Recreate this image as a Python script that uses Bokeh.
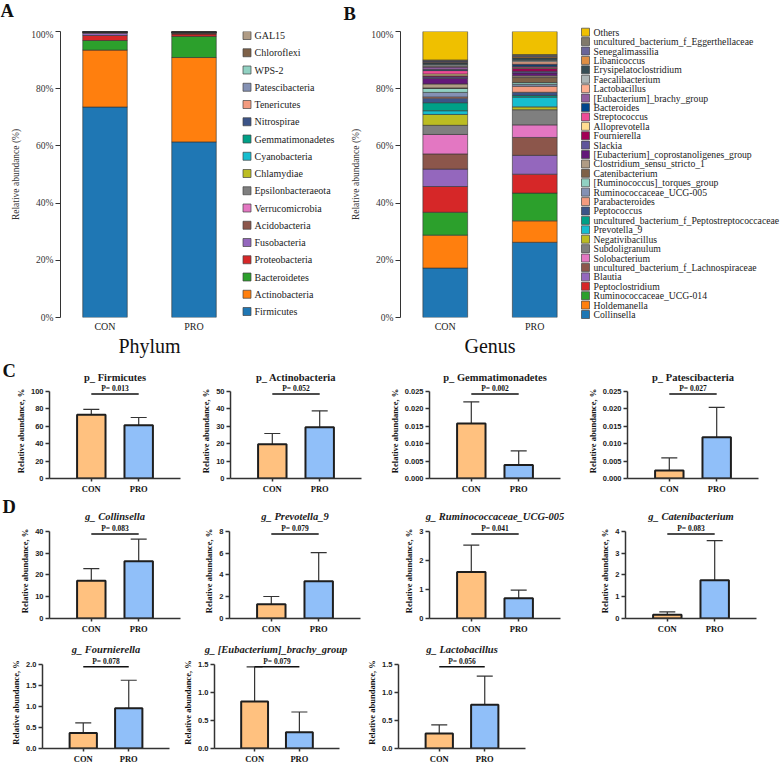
from bokeh.plotting import figure
from bokeh.models import (FactorRange, Range1d, FixedTicker, PrintfTickFormatter, NumeralTickFormatter,
                          Whisker, TeeHead, ColumnDataSource)
from bokeh.layouts import row, column
from bokeh.core.properties import value
from bokeh.embed import file_html
from bokeh.resources import INLINE

SERIF = "Liberation Serif"
SANS = "Liberation Sans"

# ---------------- data ----------------
groups = ["CON", "PRO"]

phyla = ["Firmicutes", "Actinobacteria", "Bacteroidetes", "Proteobacteria", "Fusobacteria",
         "Acidobacteria", "Verrucomicrobia", "Epsilonbacteraeota", "Chlamydiae", "Cyanobacteria",
         "Gemmatimonadetes", "Nitrospirae", "Tenericutes", "Patescibacteria", "WPS-2",
         "Chloroflexi", "GAL15"]
phylum_con = [73.6, 19.9, 3.35, 1.75, 0.8, 0.25, 0.1, 0.05, 0.05, 0.04,
              0.016, 0.03, 0.02, 0.002, 0.015, 0.015, 0.012]
phylum_pro = [61.4, 29.5, 7.4, 0.8, 0.2, 0.3, 0.05, 0.05, 0.05, 0.05,
              0.004, 0.05, 0.03, 0.012, 0.02, 0.06, 0.02]
phylum_colors = ["#1f77b4", "#ff7f0e", "#2ca02c", "#d62728", "#9467bd", "#8c564b", "#e377c2",
                 "#7f7f7f", "#bcbd22", "#17becf", "#00A087", "#3C5488", "#F39B7F", "#8491B4",
                 "#91D1C2", "#7E6148", "#B09C85"]

genera = ["Collinsella", "Holdemanella", "Ruminococcaceae_UCG-014", "Peptoclostridium", "Blautia",
          "uncultured_bacterium_f_Lachnospiraceae", "Solobacterium", "Subdoligranulum",
          "Negativibacillus", "Prevotella_9", "uncultured_bacterium_f_Peptostreptococcaceae",
          "Peptococcus", "Parabacteroides", "Ruminococcaceae_UCG-005", "[Ruminococcus]_torques_group",
          "Catenibacterium", "Clostridium_sensu_stricto_1", "[Eubacterium]_coprostanoligenes_group",
          "Slackia", "Fournierella", "Alloprevotella", "Streptococcus", "Bacteroides",
          "[Eubacterium]_brachy_group", "Lactobacillus", "Faecalibacterium", "Erysipelatoclostridium",
          "Libanicoccus", "Senegalimassilia", "uncultured_bacterium_f_Eggerthellaceae", "Others"]
genus_con = [17.3, 11.5, 8.0, 9.0, 6.1, 5.3, 6.8, 3.2, 3.8, 1.3, 2.8, 1.6, 0.4, 1.6, 1.4,
             0.17, 1.4, 2.0, 0.5, 0.37, 0.6, 1.2, 0.4, 0.84, 0.27, 0.5, 0.6, 0.3, 0.4, 0.4, 9.95]
genus_pro = [26.3, 7.5, 9.7, 6.6, 6.6, 6.25, 4.4, 5.3, 1.0, 3.4, 0.6, 1.1, 2.1, 0.7, 0.6,
             1.75, 0.6, 1.0, 0.6, 0.95, 0.3, 0.4, 0.6, 0.3, 0.78, 0.5, 0.8, 0.4, 0.4, 0.4, 8.07]
genus_colors = ["#1f77b4", "#ff7f0e", "#2ca02c", "#d62728", "#9467bd", "#8c564b", "#e377c2",
                "#7f7f7f", "#bcbd22", "#17becf", "#00A087", "#3C5488", "#F39B7F", "#8491B4",
                "#91D1C2", "#7E6148", "#B09C85", "#631879", "#5F559B", "#A20056", "#FFDC91",
                "#EE4C97", "#00468B", "#925E9F", "#FDAF91", "#ADB6B6", "#374E55", "#DF8F44",
                "#6A6599", "#80796B", "#EFC000"]

pct_ticks = [0, 20, 40, 60, 80, 100]

panel_prefix = ["p_ ", "p_ ", "p_ ", "p_ ", "g_ ", "g_ ", "g_ ", "g_ ", "g_ ", "g_ ", "g_ "]
panel_taxa = ["Firmicutes", "Actinobacteria", "Gemmatimonadetes", "Patescibacteria",
              "Collinsella", "Prevotella_9", "Ruminococcaceae_UCG-005", "Catenibacterium",
              "Fournierella", "[Eubacterium]_brachy_group", "Lactobacillus"]
con_mean = [73.0, 19.7, 0.0158, 0.0023, 17.3, 1.30, 1.60, 0.17, 0.365, 0.838, 0.267]
con_sd = [6.4, 6.1, 0.0062, 0.0036, 5.6, 0.72, 0.93, 0.13, 0.243, 0.616, 0.153]
pro_mean = [61.0, 29.4, 0.0039, 0.0118, 26.3, 3.42, 0.70, 1.76, 0.955, 0.291, 0.778]
pro_sd = [9.0, 9.4, 0.0040, 0.0086, 10.2, 2.63, 0.28, 1.82, 0.665, 0.359, 0.512]
axis_max = [100, 50, 0.025, 0.025, 40, 8, 3, 4, 2.0, 1.5, 1.5]
axis_ticks = [[0, 20, 40, 60, 80, 100], [0, 10, 20, 30, 40, 50],
              [0, 0.005, 0.010, 0.015, 0.020, 0.025], [0, 0.005, 0.010, 0.015, 0.020, 0.025],
              [0, 10, 20, 30, 40], [0, 2, 4, 6, 8], [0, 1, 2, 3], [0, 1, 2, 3, 4],
              [0, 0.5, 1.0, 1.5, 2.0], [0, 0.5, 1.0, 1.5], [0, 0.5, 1.0, 1.5]]
p_values = ["0.013", "0.052", "0.002", "0.027", "0.083", "0.079", "0.041", "0.083",
            "0.078", "0.079", "0.056"]

# ---------------- styles ----------------
tick_fmt = ["0", "0", "0.000", "0.000", "0", "0", "0", "0", "0.0", "0.0", "0.0"]
CON_FILL = "#FFC17F"
PRO_FILL = "#90BFF9"
TXT = "#1a1a1a"


def blank(W, H, x_range, y_range, bt=0, bb=0):
    p = figure(width=W, height=H, x_range=x_range, y_range=y_range, x_axis_type=None,
               y_axis_type=None, toolbar_location=None, output_backend="svg",
               min_border_left=0, min_border_right=0, min_border_top=bt, min_border_bottom=bb,
               title=None)
    p.outline_line_color = None
    return p


def header(W, H):
    return blank(W, H, Range1d(0, W), Range1d(H, 0))


def add_letter(h, x, y, s):
    h.text(x=[x], y=[y], text=[s], text_align="left", text_baseline="top",
           text_font=value(SERIF), text_font_size="18.5px", text_font_style="bold",
           text_color="#111")


def add_titles(h, idx, centers, y):
    for i, cx in zip(idx, centers):
        h.text(x=[cx], y=[y], text=[panel_prefix[i] + panel_taxa[i]], text_align="center",
               text_baseline="middle", text_font=value(SERIF), text_font_size="10.5px",
               text_font_style="bold" if panel_prefix[i] == "p_ " else "bold italic",
               text_color=TXT)


def legend_fig(names, colors, W, bt, fh, bb, first_y, step, sq_x, txt_x, size):
    p = blank(W, bt + fh + bb, Range1d(0, W), Range1d((fh - first_y) / step, -first_y / step),
              bt, bb)
    src = ColumnDataSource(dict(name=names[::-1], color=colors[::-1], i=list(range(len(names)))))
    p.rect(x=sq_x, y="i", width=8, height=8, width_units="screen", height_units="screen",
           fill_color="color", line_color="#444", line_width=0.7, source=src)
    p.text(x=txt_x, y="i", text="name", text_baseline="middle", text_align="left",
           text_font=value(SERIF), text_font_size=size, text_color="#222", source=src)
    return p


def stacked(names, con, pro, colors, W, H, bl, br, bt, bb, xlabel):
    src = ColumnDataSource({"group": groups, **{n: [c, q] for n, c, q in zip(names, con, pro)}})
    p = figure(width=W, height=H, x_range=FactorRange(*groups), y_range=Range1d(0, 100),
               toolbar_location=None, output_backend="svg", title=None,
               min_border_left=bl, min_border_right=br, min_border_top=bt, min_border_bottom=bb)
    p.vbar_stack(names, x="group", width=0.5, fill_color=colors, line_color="#333333",
                 line_width=0.6, source=src)
    p.xgrid.visible = False
    p.ygrid.visible = False
    p.outline_line_color = None
    ya = p.yaxis[0]
    ya.ticker = FixedTicker(ticks=pct_ticks)
    ya.formatter = PrintfTickFormatter(format="%d%%")
    ya.axis_line_color = "#333"
    ya.major_tick_line_color = "#333"
    ya.major_tick_out = 5
    ya.major_tick_in = 0
    ya.minor_tick_line_color = None
    ya.major_label_text_font = SERIF
    ya.major_label_text_font_size = "9.5px"
    ya.major_label_text_color = "#333"
    ya.major_label_standoff = 2
    ya.axis_label = "Relative abundance (%)"
    ya.axis_label_text_font = SERIF
    ya.axis_label_text_font_style = "normal"
    ya.axis_label_text_font_size = "9.5px"
    ya.axis_label_text_color = "#333"
    ya.axis_label_standoff = 7
    xa = p.xaxis[0]
    xa.axis_line_color = None
    xa.major_tick_line_color = None
    xa.major_tick_out = 0
    xa.major_tick_in = 0
    xa.major_label_text_font = SERIF
    xa.major_label_text_font_size = "10px"
    xa.major_label_text_color = "#222"
    xa.major_label_standoff = 3
    xa.axis_label = xlabel
    xa.axis_label_text_font = SERIF
    xa.axis_label_text_font_style = "normal"
    xa.axis_label_text_font_size = "20px"
    xa.axis_label_text_color = "#111"
    xa.axis_label_standoff = 0
    return p


# ---------------- row 1: panels A and B ----------------
BT1, FH1, BB1 = 2, 286, 43
pA = stacked(phyla, phylum_con, phylum_pro, phylum_colors, 240, BT1 + FH1 + BB1, 60, 2, BT1, BB1,
             "Phylum")
pAL = legend_fig(phyla, phylum_colors, 98, BT1, FH1, BB1, 4, 17.25, 6.5, 14, "10px")
pB = stacked(genera, genus_con, genus_pro, genus_colors, 241, BT1 + FH1 + BB1, 62, 0, BT1, BB1,
             "Genus")
pL = legend_fig(genera, genus_colors, 203, 0, 29 + BT1 + FH1 + BB1, 0, 31.7, 9.41, 6, 14, "9.7px")
h1 = header(579, 29)
add_letter(h1, 0, 0, "A")
add_letter(h1, 343, 3, "B")
row1 = row(column(h1, row(pA, pAL, pB)), pL)

# ---------------- rows 2-4: panels C and D ----------------
PAD_PX = 8


def bar_panel(i, W, H, bl, br, bb, span, pad):
    top = axis_max[i]
    p = figure(width=W, height=H,
               x_range=FactorRange(*groups, range_padding=pad, range_padding_units="absolute"),
               y_range=Range1d(0, top * (1 + PAD_PX / span)), toolbar_location=None,
               output_backend="svg", title=None,
               min_border_left=bl, min_border_right=br, min_border_top=0, min_border_bottom=bb)
    src = ColumnDataSource(dict(x=groups, top=[con_mean[i], pro_mean[i]],
                                up=[con_mean[i] + con_sd[i], pro_mean[i] + pro_sd[i]],
                                fill=[CON_FILL, PRO_FILL]))
    p.vbar(x="x", top="top", width=0.6, fill_color="fill", line_color="#1e1e1e", line_width=2,
           source=src)
    p.add_layout(Whisker(base="x", lower="top", upper="up", source=src, dimension="height",
                         line_color="#333", line_width=1.2, lower_head=None,
                         upper_head=TeeHead(size=16, line_color="#333", line_width=1.2)))
    yl = top * 0.97
    p.segment(x0=[groups[0]], y0=[yl], x1=[groups[1]], y1=[yl], line_color="#111", line_width=1.5)
    p.text(x=[1.0], y=[yl], y_offset=-1, text=["P= " + p_values[i]], text_align="center",
           text_baseline="bottom", text_font=value(SERIF), text_font_size="7.5px",
           text_font_style="bold", text_color="#111")
    p.xgrid.visible = False
    p.ygrid.visible = False
    p.outline_line_color = None
    ya = p.yaxis[0]
    ya.bounds = (0, top)
    ya.ticker = FixedTicker(ticks=axis_ticks[i])
    ya.formatter = NumeralTickFormatter(format=tick_fmt[i])
    ya.axis_line_width = 1.5
    ya.axis_line_color = "#333"
    ya.major_tick_line_width = 1.5
    ya.major_tick_line_color = "#333"
    ya.major_tick_out = 4
    ya.major_tick_in = 0
    ya.minor_tick_line_color = None
    ya.major_label_text_font = SANS
    ya.major_label_text_font_style = "bold"
    ya.major_label_text_font_size = "7.5px"
    ya.major_label_text_color = "#222"
    ya.major_label_standoff = 2
    ya.axis_label = "Relative abundance, %"
    ya.axis_label_text_font = SERIF
    ya.axis_label_text_font_style = "bold"
    ya.axis_label_text_font_size = "8.5px"
    ya.axis_label_text_color = "#111"
    ya.axis_label_standoff = 2
    xa = p.xaxis[0]
    xa.axis_line_width = 1.5
    xa.axis_line_color = "#333"
    xa.major_tick_line_width = 1.5
    xa.major_tick_line_color = "#333"
    xa.major_tick_out = 3
    xa.major_tick_in = 0
    xa.major_label_text_font = SERIF
    xa.major_label_text_font_style = "bold"
    xa.major_label_text_font_size = "8.5px"
    xa.major_label_text_color = "#111"
    xa.major_label_standoff = 2
    return p


def bar_row(idx, widths, lefts, fw, fh, bb, span, pad, hdr_h, title_y, letter_txt):
    figs = [bar_panel(i, W, fh + bb, bl, W - bl - fw, bb, span, pad)
            for i, W, bl in zip(idx, widths, lefts)]
    starts = [sum(widths[:k]) for k in range(len(widths))]
    centers = [s + bl + fw / 2 for s, bl in zip(starts, lefts)]
    h = header(sum(widths), hdr_h)
    if letter_txt:
        add_letter(h, 2, 0, letter_txt)
    add_titles(h, idx, centers, title_y)
    return column(h, row(*figs))


W4 = [190, 190, 200, 202]
row2 = bar_row([0, 1, 2, 3], W4, [49, 40, 49, 47], 131, 97, 16, 89, 0.382, 23, 17, "C")
row3 = bar_row([4, 5, 6, 7], W4, [49, 39, 49, 45], 131, 96, 17, 88, 0.382, 27, 20, "D")
row4 = bar_row([8, 9, 10], [180, 180, 185], [42, 32, 38], 127, 95, 15, 87, 0.396, 20, 13, None)

layout = column(row1, row2, row3, row4)
open("out.html", "w").write(file_html(layout, INLINE))
